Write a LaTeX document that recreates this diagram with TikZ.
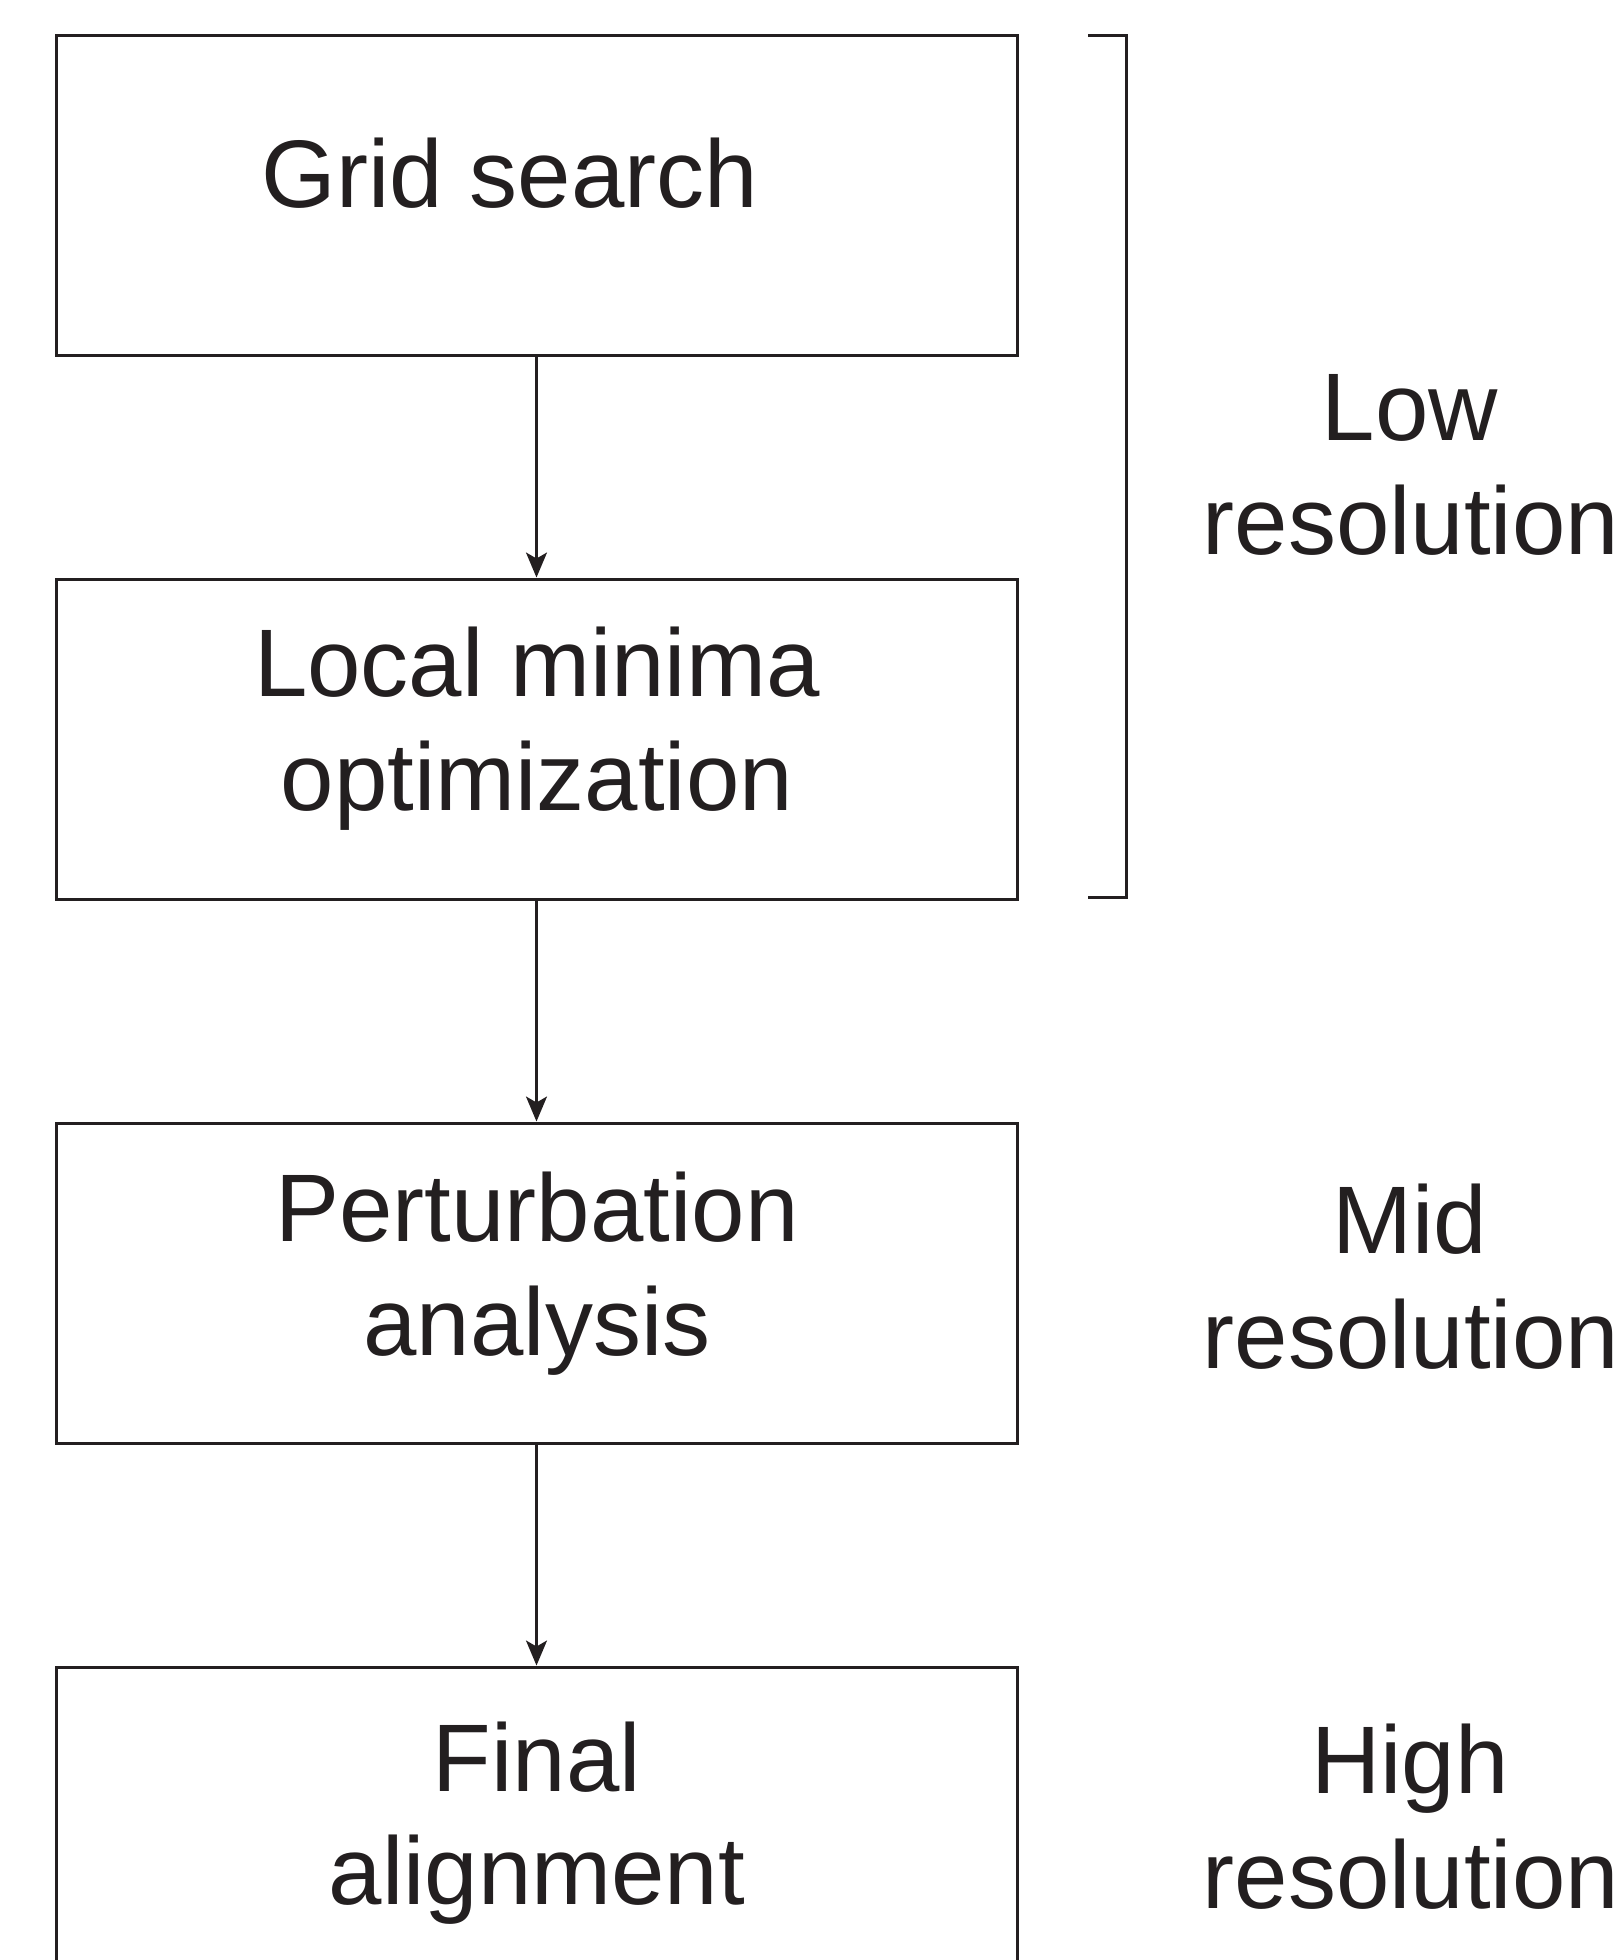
\documentclass[tikz,border=0pt]{standalone}
\usepackage{fontspec}
\setmainfont{Liberation Sans}
\usetikzlibrary{arrows.meta}
\definecolor{ink}{HTML}{231F20}
\begin{document}
\begin{tikzpicture}[x=1pt,y=-1pt,
  box/.style={draw=ink,line width=3pt,minimum width=961pt,minimum height=320pt,inner sep=0pt,rectangle},
  txt/.style={anchor=base,inner sep=0pt,text=ink,font=\fontsize{96}{114}\selectfont},
  arr/.style={draw=ink,line width=2.4pt,-{Stealth[length=25pt,width=21pt,inset=6pt]}},
  brk/.style={draw=ink,line width=3pt}]
\useasboundingbox (0,0) rectangle (1612,1960);
\clip (0,0) rectangle (1612,1960);
\node[box] (b1) at (536.5,195) {};
\node[box] (b2) at (536.5,739) {};
\node[box] (b3) at (536.5,1283) {};
\node[box] (b4) at (536.5,1827) {};
\draw[arr] (b1.south) -- (b2.north);
\draw[arr] (b2.south) -- (b3.north);
\draw[arr] (b3.south) -- (b4.north);
\node[txt] (t1) at (510,207) {Grid search};
\node[txt] (t2a) at (537,696) {Local minima};
\node[txt] (t2b) at (537,810) {optimization};
\node[txt] (t3a) at (537,1241) {Perturbation};
\node[txt] (t3b) at (537,1355) {analysis};
\node[txt] (t4a) at (537,1791) {Final};
\node[txt] (t4b) at (537,1904) {alignment};
\coordinate (k1) at (1088,35);
\coordinate (k2) at (1126,35);
\coordinate (k3) at (1126,897);
\coordinate (k4) at (1088,897);
\draw[brk] (k1) -- (k2) -- (k3) -- (k4);
\node[txt] (l1a) at (1410,440) {Low};
\node[txt] (l1b) at (1411,554) {resolution};
\node[txt] (l2a) at (1410,1253) {Mid};
\node[txt] (l2b) at (1411,1368) {resolution};
\node[txt] (l3a) at (1410,1793) {High};
\node[txt] (l3b) at (1411,1908) {resolution};
\end{tikzpicture}
\end{document}
